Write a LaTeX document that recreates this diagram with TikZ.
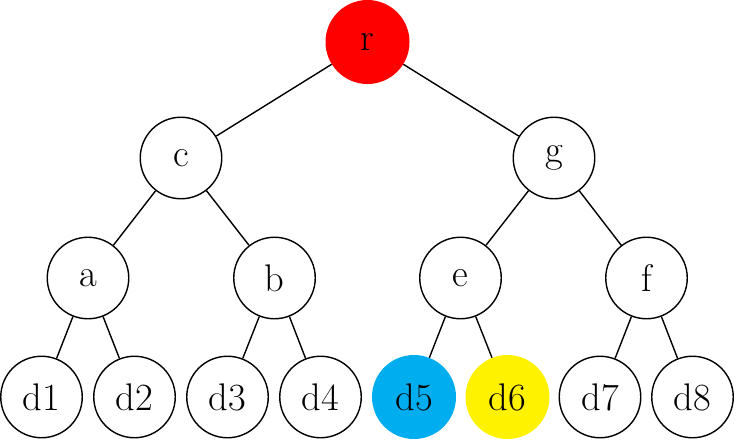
\documentclass[tikz,border=0pt]{standalone}
\definecolor{nodecyan}{RGB}{0,174,239}
\definecolor{nodeyellow}{RGB}{255,242,0}
\definecolor{nodered}{RGB}{255,0,0}
\begin{document}
\begin{tikzpicture}[x=1pt,y=-1pt,
  tn/.style={circle,draw=black,line width=1.4pt,minimum size=81.5pt,inner sep=0pt,
    font=\fontsize{38.5}{46}\selectfont},
  fn/.style={circle,minimum size=84pt,inner sep=0pt,
    font=\fontsize{38.5}{46}\selectfont},
  edge/.style={line width=1.4pt}]
\useasboundingbox (0,0) rectangle (736,439);
\node[fn,fill=nodered] (r) at (367.5,42) {r};
\node[tn] (c) at (181,158) {c};
\node[tn] (g) at (554,158) {g};
\node[tn] (a) at (88,278) {a};
\node[tn] (b) at (274.5,278) {b};
\node[tn] (e) at (460.5,278) {e};
\node[tn] (f) at (646.5,278) {f};
\node[tn] (d1) at (41.5,397) {d1};
\node[tn] (d2) at (134.5,397) {d2};
\node[tn] (d3) at (227.5,397) {d3};
\node[tn] (d4) at (320.5,397) {d4};
\node[fn,fill=nodecyan] (d5) at (414,397) {d5};
\node[fn,fill=nodeyellow] (d6) at (507.5,397) {d6};
\node[tn] (d7) at (600,397) {d7};
\node[tn] (d8) at (692.5,397) {d8};
\draw[edge] (r) -- (c);
\draw[edge] (r) -- (g);
\draw[edge] (c) -- (a);
\draw[edge] (c) -- (b);
\draw[edge] (g) -- (e);
\draw[edge] (g) -- (f);
\draw[edge] (a) -- (d1);
\draw[edge] (a) -- (d2);
\draw[edge] (b) -- (d3);
\draw[edge] (b) -- (d4);
\draw[edge] (e) -- (d5);
\draw[edge] (e) -- (d6);
\draw[edge] (f) -- (d7);
\draw[edge] (f) -- (d8);
\end{tikzpicture}
\end{document}
